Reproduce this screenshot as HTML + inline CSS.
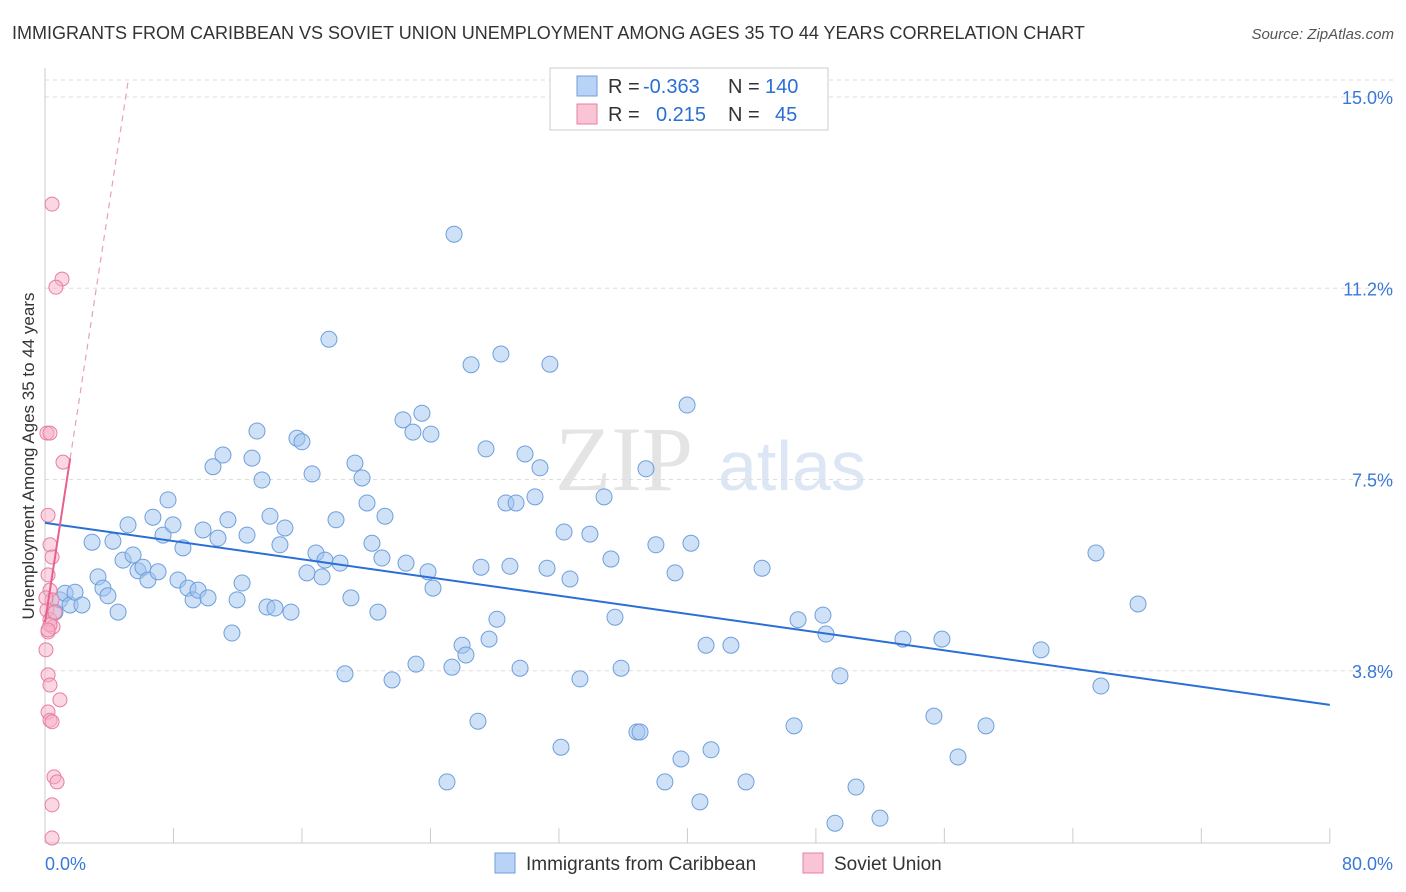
<!DOCTYPE html>
<html><head><meta charset="utf-8"><style>
body{margin:0;background:#fff;font-family:"Liberation Sans",sans-serif;}
</style></head><body>
<svg id="chart" width="1406" height="892" xmlns="http://www.w3.org/2000/svg" style="display:block">
<text x="12" y="39" font-size="18" fill="#333">IMMIGRANTS FROM CARIBBEAN VS SOVIET UNION UNEMPLOYMENT AMONG AGES 35 TO 44 YEARS CORRELATION CHART</text>
<text x="1394" y="39" font-size="15" fill="#555" text-anchor="end" font-style="italic">Source: ZipAtlas.com</text>
<text x="555" y="490" font-size="92" fill="#e4e4e4" font-family="Liberation Serif, serif">ZIP</text>
<text x="718" y="490" font-size="70" fill="#dce6f4">atlas</text>
<g id="grid"></g>
<g id="axes"></g>
<g id="pts"></g>
<g id="trend"></g>
<text transform="translate(34,456) rotate(-90)" font-size="17" fill="#333" text-anchor="middle">Unemployment Among Ages 35 to 44 years</text>
<g font-size="20">
<rect x="550" y="68" width="278" height="62" fill="#fff" stroke="#ccc"/>
<rect x="577" y="76" width="20" height="20" fill="#b8d3f5" stroke="#6f9fdc"/>
<rect x="577" y="104" width="20" height="20" fill="#f9c4d5" stroke="#e87fa0"/>
<text x="608" y="93" fill="#333">R =</text>
<text x="643" y="93" fill="#2a6fd6">-0.363</text>
<text x="728" y="93" fill="#333">N =</text>
<text x="765" y="93" fill="#2a6fd6">140</text>
<text x="608" y="121" fill="#333">R =</text>
<text x="656" y="121" fill="#2a6fd6">0.215</text>
<text x="728" y="121" fill="#333">N =</text>
<text x="775" y="121" fill="#2a6fd6">45</text>
</g>
<g>
<rect x="495" y="853" width="20" height="20" fill="#b8d3f5" stroke="#6f9fdc"/>
<text x="526" y="870" font-size="19" fill="#333">Immigrants from Caribbean</text>
<rect x="803" y="853" width="20" height="20" fill="#f9c4d5" stroke="#e87fa0"/>
<text x="834" y="870" font-size="19" fill="#333">Soviet Union</text>
</g>
</svg>
<script>
const yTicks=[3.75,7.5,11.25,15];
const yTickLabels=["3.8%","7.5%","11.2%","15.0%"];
const xTicks=[8,16,24,32,40,48,56,64,72,80];
const blueX=[0.62,0.93,1.25,1.56,1.87,2.30,2.93,3.30,3.61,3.92,4.23,4.55,4.86,5.17,5.48,5.79,6.10,6.41,6.72,7.04,7.35,7.66,7.97,8.28,8.59,8.90,9.22,9.53,9.84,10.15,10.46,10.77,11.08,11.39,11.64,11.96,12.27,12.58,12.89,13.20,13.51,14.01,13.82,14.32,14.63,14.94,15.32,15.69,16.00,16.31,16.63,16.87,17.25,17.43,17.68,18.12,18.37,18.68,19.05,19.30,19.74,20.05,20.36,20.73,21.17,20.98,21.61,22.29,22.48,22.91,23.10,23.47,23.85,24.03,24.16,25.03,25.34,25.47,25.97,26.21,26.53,26.96,27.15,27.46,27.65,28.14,28.39,28.70,28.95,29.33,29.58,29.89,30.51,30.82,31.26,31.44,32.13,32.32,32.69,33.31,33.93,34.81,35.24,35.49,35.87,36.86,37.05,37.42,38.04,38.60,39.23,39.60,39.98,40.22,40.78,41.16,41.47,42.71,43.65,44.65,46.64,46.89,48.44,48.63,49.19,49.50,50.50,51.99,53.42,55.35,55.85,56.85,58.59,62.02,65.44,65.75,68.06];
const blueY=[4.90,5.14,5.27,5.04,5.29,5.04,6.27,5.59,5.37,5.22,6.29,4.90,5.92,6.61,6.02,5.71,5.78,5.53,6.76,5.69,6.41,7.10,6.61,5.53,6.16,5.37,5.14,5.33,6.51,5.18,7.75,6.35,7.98,6.71,4.49,5.14,5.47,6.41,7.92,8.45,7.49,6.78,5.00,4.98,6.22,6.55,4.90,8.31,8.24,5.67,7.61,6.06,5.59,5.92,10.25,6.71,5.86,3.69,5.18,7.82,7.53,7.04,6.25,4.90,6.78,5.96,3.57,8.67,5.86,8.43,3.88,8.80,5.69,8.39,5.37,1.57,3.82,12.31,4.25,4.06,9.75,2.76,5.78,8.10,4.37,4.76,9.96,7.04,5.80,7.04,3.80,8.00,7.16,7.73,5.76,9.76,2.25,6.47,5.55,3.59,6.43,7.16,5.94,4.80,3.80,2.55,2.55,7.71,6.22,1.57,5.67,2.02,8.96,6.25,1.18,4.25,2.20,4.25,1.57,5.76,2.67,4.75,4.84,4.47,0.76,3.65,1.47,0.86,4.37,2.86,4.37,2.06,2.67,4.16,6.06,3.45,5.06];
const pinkX=[0.44,1.06,0.68,0.12,0.31,1.12,0.19,0.31,0.44,0.19,0.31,0.44,0.12,0.31,0.50,0.19,0.06,0.19,0.31,0.93,0.19,0.31,0.44,0.56,0.75,0.44,0.44,0.31,0.06,0.62,0.19];
const pinkY=[12.90,11.43,11.27,8.41,8.41,7.84,6.80,6.22,5.98,5.63,5.33,5.14,4.94,4.75,4.61,4.51,4.16,3.67,3.47,3.18,2.94,2.78,2.75,1.67,1.57,1.12,0.47,4.65,5.18,4.90,4.55];
const blueTrend=[6.65,3.08];
const pinkTrend=[4.7,2.05];
const X=v=>45+v*16.06, Y=v=>862-v*51;
const NS="http://www.w3.org/2000/svg";
function mk(tag,attrs,parent){const e=document.createElementNS(NS,tag);for(const k in attrs)e.setAttribute(k,attrs[k]);document.getElementById(parent).appendChild(e);return e;}
yTicks.forEach((t,i)=>{
 const l=mk('line',{x1:45,x2:1393,y1:Y(t),y2:Y(t),stroke:'#ddd','stroke-dasharray':'4,4'},'grid');
 
 
 const tx=mk('text',{x:1393,y:Y(t)+7,'font-size':18,fill:'#3a78d8','text-anchor':'end'},'grid');
 tx.textContent=yTickLabels[i];
 
 
});
const topLine=mk('line',{x1:45,x2:1393,y1:80,y2:80,stroke:'#ddd','stroke-dasharray':'4,4'},'grid');


const ax=mk('line',{x1:45,x2:45,y1:68,y2:843,stroke:'#ccc'},'axes');


const bx=mk('line',{x1:45,x2:1330,y1:843,y2:843,stroke:'#ccc'},'axes');


xTicks.forEach(t=>{const l=mk('line',{x1:X(t),x2:X(t),y1:828,y2:843,stroke:'#ccc'},'axes');
 
 });
const xl0=mk('text',{x:45,y:870,'font-size':18,fill:'#3a78d8'},'axes');xl0.textContent='0.0%';


const xl1=mk('text',{x:1393,y:870,'font-size':18,fill:'#3a78d8','text-anchor':'end'},'axes');xl1.textContent='80.0%';


blueX.forEach((x,i)=>{const c=mk('circle',{cx:X(x),cy:Y(blueY[i]),r:8,fill:'rgba(160,195,240,0.5)',stroke:'#6f9fdc','stroke-width':1},'pts');
 
 });
pinkX.forEach((x,i)=>{const c=mk('circle',{cx:X(x),cy:Y(pinkY[i]),r:7,fill:'rgba(245,175,200,0.5)',stroke:'#e87fa0','stroke-width':1},'pts');
 
 });
const bt=mk('line',{x1:X(0),y1:Y(blueTrend[0]),x2:X(80),y2:Y(blueTrend[1]),stroke:'#2a6fd6','stroke-width':2},'trend');


const px=Math.max(...pinkX)*1.4;
const pt=mk('line',{x1:X(0),y1:Y(pinkTrend[0]),x2:X(px),y2:Y(pinkTrend[0]+pinkTrend[1]*px),stroke:'#e8608f','stroke-width':2},'trend');


const xe=(15.3-pinkTrend[0])/pinkTrend[1];
const pd=mk('line',{x1:X(px),y1:Y(pinkTrend[0]+pinkTrend[1]*px),x2:X(xe),y2:Y(15.3),stroke:'#e8a0b8','stroke-width':1.2,'stroke-dasharray':'6,5'},'trend');


</script>
</body></html>
